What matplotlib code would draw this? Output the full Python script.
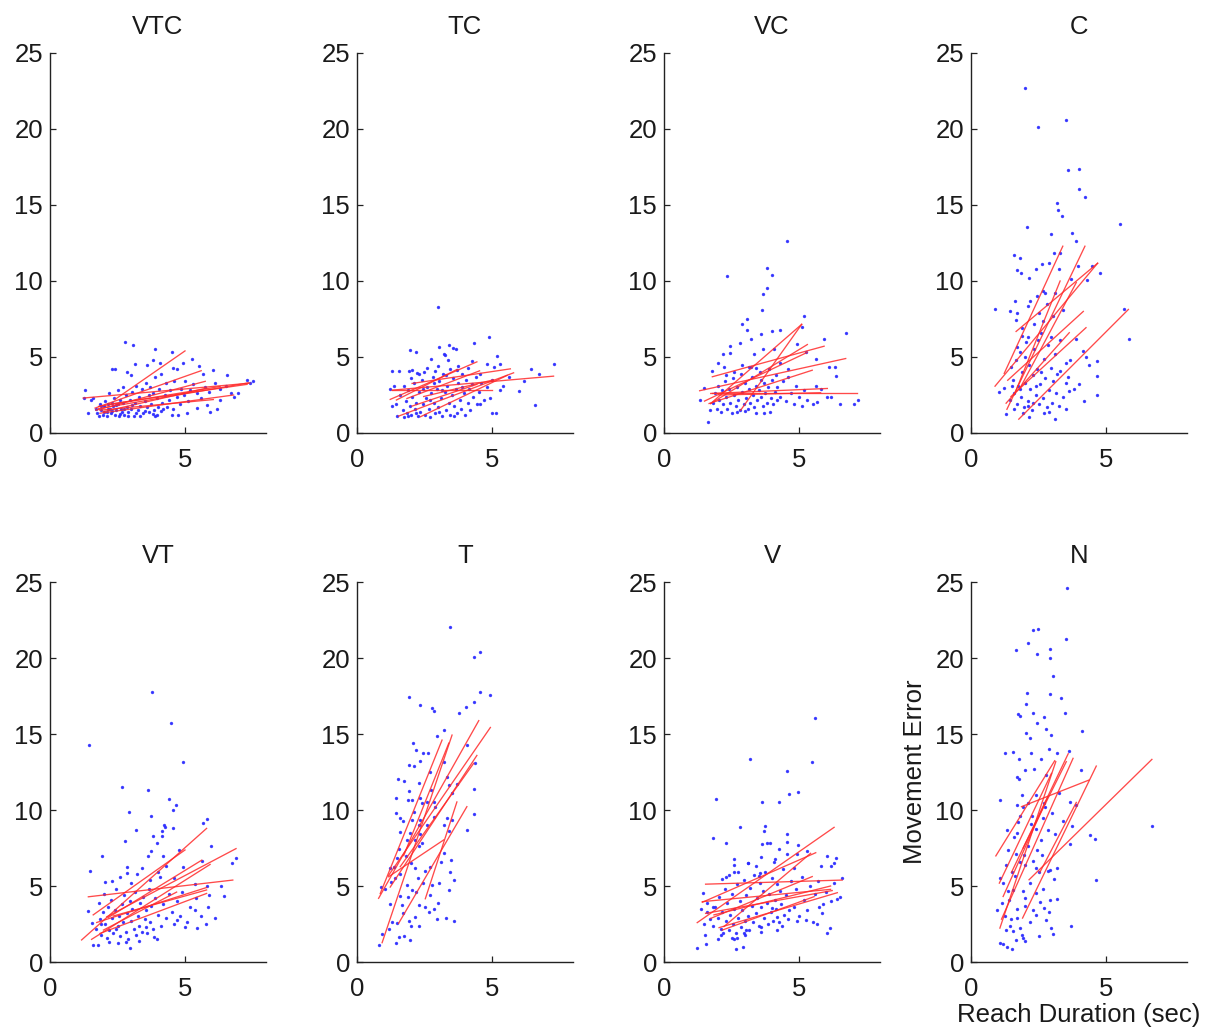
import matplotlib
matplotlib.use("Agg")
import matplotlib.pyplot as plt

plt.rcParams['font.family'] = ['Liberation Sans', 'DejaVu Sans']

panel_names = ["VTC", "TC", "VC", "C", "VT", "T", "V", "N"]
x_ticks = [0, 5]
y_ticks = [0, 5, 10, 15, 20, 25]
x_label = "Reach Duration (sec)"
y_label = "Movement Error"

vtc_pts = [(2.78,6.0),(3.09,5.8),(3.9,5.5),(4.5,5.3),(5.25,4.9),(2.28,4.2),(2.4,4.2),(2.84,4.0),(3.15,4.55),(3.58,4.5),(3.83,4.8),(4.07,4.6),(4.57,4.27),(4.69,4.2),(4.94,4.6),(5.53,4.4),(6.05,4.15),(5.68,3.9),(6.54,3.8),(7.28,3.5),(6.98,2.6),(1.3,2.85),(6.3,2.2),(5.8,1.85),(5.93,1.4),(6.2,1.6),(5.43,1.64),(5.06,1.3),(4.5,1.2),(4.75,1.2),(3.95,1.2),(3.9,1.1),(1.42,1.3),(6.8,2.4),
(1.25,2.3),(1.5,2.2),(1.6,2.3),(1.7,1.6),(1.75,1.3),(1.8,1.1),(1.85,1.9),(1.9,1.5),(1.95,1.2),(2.0,1.75),(2.05,2.1),(2.1,1.4),(2.12,1.1),(2.15,1.9),(2.2,2.6),(2.22,1.6),(2.25,1.3),(2.3,2.0),(2.35,1.75),(2.38,2.3),(2.4,1.2),(2.45,1.5),(2.5,2.8),(2.5,1.9),(2.55,1.1),(2.6,2.2),(2.62,1.6),(2.65,1.35),(2.7,3.0),(2.72,2.0),(2.75,1.2),(2.8,2.5),(2.85,1.7),(2.9,1.4),(2.95,2.2),(3.0,3.8),(3.0,1.6),(3.05,2.7),(3.1,1.15),(3.15,2.0),(3.2,3.1),(3.25,1.5),(3.3,2.4),(3.35,1.8),(3.4,2.9),(3.45,1.3),(3.5,2.1),(3.55,3.3),(3.6,1.7),(3.65,2.5),(3.7,3.0),(3.75,1.9),(3.8,2.6),(3.85,1.5),(3.9,3.7),(3.95,2.3),(4.0,1.7),(4.05,2.9),(4.1,3.9),(4.15,2.0),(4.2,1.6),(4.25,2.5),(4.3,3.3),(4.35,1.7),(4.4,2.2),(4.45,2.8),(4.55,1.6),(4.6,3.4),(4.7,2.4),(4.8,1.9),(4.85,2.9),(4.95,2.5),(5.0,3.4),(5.1,2.1),(5.2,2.8),(5.3,3.2),(5.45,2.6),(5.6,2.3),(5.75,3.0),(5.9,2.7),(6.1,3.3),(6.3,2.9),(6.5,3.1),(6.7,2.6),(7.4,3.3),(7.5,3.4),
(2.0,1.35),(2.3,1.45),(2.6,1.25),(2.9,1.1),(3.2,1.3),(3.5,1.45),(3.8,1.25),(4.1,1.45),(2.45,1.85),(2.75,1.55),(3.05,1.85),(3.35,1.15),(3.65,1.35),(1.9,1.75),(2.15,1.55)]

tc_pts = [(3.0,8.29),(4.9,6.32),(4.35,5.93),(1.98,5.45),(2.19,5.36),(3.02,5.64),(3.4,5.8),(3.56,5.6),(3.68,5.5),(3.21,5.18),(3.27,5.1),(5.19,5.05),(3.36,4.79),(2.75,4.9),(4.26,4.75),(7.31,4.53),(5.28,4.57),(4.81,4.53),(5.06,4.31),(6.44,4.18),(6.73,3.91),(1.3,4.09),(1.54,4.09),(1.91,4.09),(2.04,4.13),(2.47,4.02),(2.22,3.96),(2.9,4.09),(3.7,4.13),(3.89,3.91),(4.57,3.91),(5.62,3.69),(6.17,3.43),(5.99,2.78),(6.6,1.84),(1.23,2.9),(1.36,3.12),(5.0,1.33),(5.16,1.33),(4.44,1.94),(4.57,1.94),(4.94,2.27),(5.31,2.86),(1.48,1.11),(1.73,1.07),(1.3,1.77),(1.46,1.94),
(1.6,2.5),(1.7,1.5),(1.8,2.1),(1.85,1.3),(1.9,2.8),(1.95,1.8),(2.0,1.2),(2.05,2.4),(2.1,3.3),(2.15,1.6),(2.2,2.0),(2.25,1.1),(2.3,2.7),(2.35,1.4),(2.4,3.5),(2.45,1.9),(2.5,1.2),(2.55,2.3),(2.6,3.0),(2.65,1.6),(2.7,1.05),(2.75,2.6),(2.8,3.7),(2.85,2.0),(2.9,1.3),(2.95,2.9),(3.0,1.7),(3.05,3.4),(3.1,2.3),(3.15,1.1),(3.2,3.9),(3.25,2.7),(3.3,1.5),(3.35,3.1),(3.4,2.0),(3.45,1.2),(3.5,2.5),(3.55,3.6),(3.6,1.8),(3.65,2.9),(3.7,1.3),(3.75,3.3),(3.8,2.2),(3.85,1.6),(3.9,3.0),(3.95,2.6),(4.0,1.2),(4.05,3.5),(4.1,2.0),(4.15,2.9),(4.2,1.5),(4.25,3.2),(4.3,2.4),(4.4,3.7),(4.5,2.7),(4.6,3.3),(4.7,2.2),(4.8,3.0),(5.0,3.5),(5.4,3.1),(2.3,3.9),(2.6,4.3),(3.0,4.4),(3.3,3.8),(2.0,3.6),(1.75,3.1),(2.45,2.9),(2.85,3.3),(3.15,2.8),(3.45,4.2),(3.75,4.4),(4.1,4.3),(2.7,2.2),(3.05,1.4),(3.6,1.1),(2.2,1.3),(1.9,1.1)]

vc_pts = [(4.57,12.62),(3.8,10.85),(4.01,10.4),(2.35,10.32),(3.8,9.53),(3.68,9.12),(3.64,8.07),(5.19,7.7),(2.88,7.19),(3.09,7.52),(3.09,6.76),(3.58,6.49),(4.01,6.71),(4.28,6.8),(5.12,7.0),(6.73,6.58),(5.93,6.17),(3.21,6.2),(2.81,5.93),(2.44,5.71),(2.44,5.26),(2.17,5.22),(3.68,5.55),(4.07,5.55),(3.33,5.18),(4.94,5.88),(5.25,5.34),(5.62,4.9),(2.22,4.31),(3.15,4.31),(3.23,4.35),(6.11,4.35),(6.32,4.35),(6.36,3.76),(1.79,4.1),(5.62,3.08),(6.02,2.38),(5.68,2.05),(7.04,1.94),(7.19,2.2),(1.32,2.16),(1.64,0.74),(1.69,1.5),(1.48,2.93),(3.4,1.34),(3.7,1.34),(3.93,1.4),(4.2,2.16),
(1.8,2.0),(1.9,2.6),(1.95,1.6),(2.0,3.1),(2.05,2.2),(2.1,1.4),(2.15,2.8),(2.2,1.9),(2.25,3.4),(2.3,2.4),(2.35,1.6),(2.4,2.9),(2.45,2.0),(2.5,1.3),(2.55,3.6),(2.6,2.5),(2.65,1.8),(2.7,3.0),(2.75,2.2),(2.8,1.5),(2.85,3.9),(2.9,2.7),(2.95,1.9),(3.0,3.3),(3.05,2.3),(3.1,1.6),(3.15,2.9),(3.2,2.0),(3.25,3.7),(3.3,2.5),(3.35,1.7),(3.4,3.1),(3.45,2.2),(3.5,2.8),(3.55,4.0),(3.6,2.4),(3.65,1.8),(3.7,3.3),(3.75,2.6),(3.8,2.0),(3.85,3.0),(3.9,4.2),(3.95,2.3),(4.0,3.5),(4.05,1.9),(4.1,2.7),(4.15,3.8),(4.2,3.0),(4.3,2.4),(4.4,3.4),(4.5,2.1),(4.6,4.2),(4.7,2.6),(4.8,1.9),(4.9,3.1),(5.0,2.4),(5.1,1.8),(5.2,2.8),(5.3,2.2),(5.5,1.9),(5.8,2.9),(6.2,2.4),(6.5,1.9),(2.3,3.8),(2.0,4.6),(2.6,4.0),(2.9,4.5),(3.4,4.3),(3.0,1.45),(2.7,1.35),(3.6,3.5),(4.3,4.6),(4.6,3.7)]

c_pts = [(2.0,22.68),(3.53,20.62),(2.47,20.14),(3.58,17.3),(3.99,17.37),(3.99,16.03),(4.22,15.5),(3.19,15.16),(3.21,14.68),(3.38,14.26),(5.51,13.76),(2.06,13.54),(2.96,13.06),(3.74,13.14),(3.89,12.6),(1.58,11.74),(1.83,11.52),(3.09,11.85),(3.31,11.85),(1.7,10.74),(1.85,10.54),(2.41,10.8),(2.62,11.1),(2.16,10.19),(2.88,11.2),(3.27,10.8),(3.98,11.0),(4.48,10.96),(4.78,10.54),(3.7,10.11),(4.3,10.04),(2.65,9.34),(2.74,9.23),(2.43,9.0),(1.64,8.66),(0.89,8.18),(1.46,8.01),(5.68,8.16),(2.1,8.38),(1.67,7.45),(5.84,6.2),(1.88,6.93),(2.32,7.14),(3.02,7.73),(2.65,7.4),(2.47,6.09),(2.96,6.3),(1.7,5.66),(2.1,6.3),(1.48,4.34),(4.14,5.39),(4.26,5.0),(4.67,4.74),(4.38,4.45),(4.67,3.76),(3.68,4.78),(3.31,4.09),(3.52,3.26),(3.62,2.74),(4.17,2.1),(4.67,2.52),(3.12,0.91),(1.3,1.24),(1.6,1.6),(1.23,2.98),(1.05,2.7),(2.16,1.07),(1.91,1.29),
(1.45,2.2),(1.55,3.5),(1.6,2.6),(1.65,4.8),(1.7,1.9),(1.75,3.1),(1.8,5.3),(1.85,2.4),(1.9,4.0),(1.95,1.7),(2.0,3.3),(2.05,6.0),(2.1,2.1),(2.15,4.5),(2.2,2.9),(2.25,1.5),(2.3,3.8),(2.35,5.5),(2.4,2.5),(2.45,4.2),(2.5,1.9),(2.55,3.2),(2.6,6.6),(2.65,2.3),(2.7,4.9),(2.75,3.6),(2.8,1.7),(2.85,5.8),(2.9,2.8),(2.95,4.3),(3.0,2.0),(3.05,3.4),(3.1,5.2),(3.15,2.6),(3.2,3.9),(3.25,1.8),(3.3,6.1),(3.4,2.4),(3.5,4.6),(3.6,3.7),(3.8,2.9),(3.9,6.2),(4.0,3.2),(1.7,7.9),(2.2,8.7),(2.5,7.9),(2.8,8.5),(3.1,9.2),(3.4,8.1),(2.0,5.0),(1.9,6.4),(2.4,3.1),(2.7,1.3),(1.5,3.1),(2.3,2.0),(2.9,1.4),(3.5,1.6),(2.1,1.8),(1.8,2.9),(2.6,4.0)]

vt_pts = [(3.77,17.79),(4.48,15.74),(1.46,14.27),(4.94,13.14),(2.68,11.54),(3.62,11.32),(4.4,10.74),(4.65,10.33),(4.57,10.0),(2.94,9.84),(3.73,9.6),(5.8,9.39),(5.68,9.12),(4.23,9.01),(4.26,8.9),(4.54,8.79),(3.19,8.66),(4.16,8.64),(3.8,8.31),(4.14,8.29),(2.78,7.98),(3.98,7.8),(5.96,7.65),(3.74,7.32),(1.94,6.99),(3.64,6.99),(4.2,6.99),(4.79,7.37),(6.88,6.86),(6.73,6.54),(1.48,5.99),(2.86,6.27),(2.86,5.83),(3.23,5.77),(2.04,5.28),(4.01,5.9),(4.07,5.57),(4.94,6.27),(5.62,6.64),(6.32,5.02),(6.46,4.34),(5.8,5.0),(5.37,5.13),(1.4,3.35),(1.54,2.54),(1.6,1.11),(1.77,1.11),(2.51,1.22),(2.96,0.89),(3.85,1.67),(3.95,1.49),(4.69,2.76),(5.06,2.61),(5.43,2.21),(5.78,2.5),(5.86,3.62),(5.37,3.4),
(1.7,2.2),(1.8,3.9),(1.85,2.8),(1.9,1.8),(1.95,3.3),(2.0,4.5),(2.05,2.5),(2.1,1.6),(2.15,3.6),(2.2,2.1),(2.25,4.1),(2.3,2.9),(2.35,1.9),(2.4,3.4),(2.45,4.8),(2.5,2.4),(2.55,3.0),(2.6,1.7),(2.65,3.8),(2.7,2.6),(2.75,4.4),(2.8,2.0),(2.85,3.2),(2.9,1.5),(2.95,4.0),(3.0,2.7),(3.05,3.5),(3.1,2.2),(3.15,4.6),(3.2,1.8),(3.25,3.0),(3.3,2.4),(3.35,3.9),(3.4,2.0),(3.45,4.3),(3.5,2.8),(3.55,3.4),(3.6,1.9),(3.65,4.8),(3.7,2.6),(3.75,3.7),(3.8,2.2),(3.9,4.2),(4.0,3.1),(4.1,2.4),(4.2,3.8),(4.3,2.9),(4.4,4.5),(4.5,3.3),(4.6,2.5),(4.7,4.0),(4.8,3.0),(4.9,4.6),(5.0,2.3),(5.2,3.6),(5.4,4.2),(5.6,3.0),(5.9,4.4),(6.1,2.9),(2.3,5.3),(2.6,5.6),(3.0,5.2),(3.4,6.2),(3.7,5.4),(4.3,6.3),(4.6,5.5),(2.2,1.3),(2.8,1.3),(3.3,1.4),(1.9,2.5),(2.45,2.2),(3.55,2.3)]

t_pts = [(3.43,22.06),(4.32,20.04),(4.57,20.41),(1.91,17.46),(2.32,16.91),(2.78,16.69),(2.86,16.54),(3.77,16.36),(4.05,16.8),(4.32,17.08),(4.54,17.78),(4.94,17.57),(3.21,15.26),(2.96,14.89),(2.07,14.39),(2.2,13.95),(2.44,13.77),(2.62,13.77),(4.07,14.28),(1.94,12.96),(2.12,12.92),(2.35,13.2),(2.69,12.52),(3.23,13.18),(4.38,13.07),(1.51,12.04),(1.73,11.91),(3.33,12.15),(3.42,11.65),(3.7,11.68),(1.91,11.25),(1.46,10.8),(1.88,10.69),(2.04,10.65),(2.32,10.8),(2.41,10.48),(2.59,10.54),(2.74,11.3),(2.86,10.54),(3.52,11.14),(4.35,11.38),(4.35,9.74),(1.46,9.82),(1.58,9.45),(1.7,9.3),(2.04,9.34),(2.35,9.34),(2.86,9.52),(3.33,9.45),(3.52,9.34),(4.07,8.68),(1.6,8.57),(1.95,8.51),(2.28,8.99),(3.23,8.99),(3.4,8.64),(2.16,8.03),(1.54,7.41),(2.28,7.63),(3.23,7.15),(3.48,6.71),(1.48,6.81),(1.23,6.16),(1.38,6.27),(2.16,6.16),(2.25,5.5),(2.72,6.27),(3.43,5.9),(3.58,5.39),(0.89,4.96),(1.05,4.78),(1.26,5.28),(1.85,5.06),(2.04,4.74),(2.44,5.17),(2.78,5.06),(3.02,5.17),(3.4,4.74),(1.23,3.82),(1.58,4.31),(1.67,3.75),(2.28,3.75),(2.65,3.29),(2.84,3.46),(3.31,2.87),(3.6,2.7),(2.96,2.85),(1.91,2.72),(2.16,2.98),(2.28,2.35),(1.3,2.65),(1.17,2.2),(1.48,2.54),(1.73,1.7),(0.93,1.83),(0.8,1.12),(1.46,1.23),(1.98,1.45),(1.54,1.66),
(1.8,7.0),(2.0,6.5),(2.1,9.9),(2.4,7.8),(2.5,6.0),(2.6,9.0),(1.6,5.8),(1.9,4.3),(2.2,4.6),(2.5,3.6),(2.7,4.4),(3.0,3.9),(3.1,6.6),(2.3,11.8),(2.9,10.2),(1.4,5.5),(1.7,3.2),(2.0,2.4),(2.35,8.4),(1.85,8.0)]

v_pts = [(5.58,16.03),(5.49,13.18),(3.19,13.33),(4.54,12.59),(4.98,11.18),(4.63,11.03),(1.91,10.7),(3.64,10.5),(4.26,10.5),(2.81,8.9),(3.74,8.95),(3.7,8.64),(1.83,8.14),(2.28,7.85),(3.83,7.85),(3.93,7.81),(3.64,7.74),(4.54,8.4),(4.54,7.92),(4.96,7.7),(4.26,7.43),(4.57,7.1),(4.94,7.08),(3.58,6.93),(5.31,7.32),(6.05,6.99),(6.36,6.82),(2.59,6.78),(2.59,6.38),(3.12,6.54),(4.07,6.6),(5.83,6.34),(6.17,6.34),(6.3,6.54),(2.74,5.95),(2.41,5.73),(2.16,5.44),(3.56,5.88),(3.52,5.68),(6.58,5.55),(1.46,4.56),(1.81,3.64),(1.38,3.46),(1.6,3.31),(1.48,2.5),(1.23,0.9),(1.57,1.19),(2.65,0.83),(2.93,0.96),(2.1,1.78),(2.59,1.49),(2.69,1.56),(2.96,1.89),(3.02,2.11),(3.58,2.32),(4.38,2.37),(6.05,1.89),(6.14,2.21),(5.68,2.5),(4.94,2.72),(5.25,2.76),(6.4,4.13),(5.74,3.64),(5.86,3.2),(4.63,3.42),(4.01,3.53),(4.2,2.98),
(1.8,2.4),(1.9,3.6),(2.0,2.9),(2.05,4.3),(2.1,2.2),(2.15,3.3),(2.2,1.9),(2.25,4.8),(2.3,2.7),(2.35,3.9),(2.4,2.1),(2.45,3.1),(2.5,4.5),(2.55,2.5),(2.6,3.5),(2.65,1.9),(2.7,5.1),(2.75,2.9),(2.8,4.0),(2.85,2.3),(2.9,3.4),(2.95,5.4),(3.0,2.7),(3.05,4.4),(3.1,3.0),(3.15,2.1),(3.2,4.9),(3.25,3.7),(3.3,2.6),(3.35,5.7),(3.4,3.2),(3.45,4.2),(3.5,2.4),(3.55,5.2),(3.6,3.6),(3.65,4.7),(3.7,2.9),(3.75,5.9),(3.8,3.9),(3.85,2.5),(3.9,4.5),(3.95,3.3),(4.0,5.5),(4.05,2.7),(4.1,4.1),(4.15,3.5),(4.2,5.1),(4.25,2.6),(4.3,4.7),(4.35,3.8),(4.4,6.1),(4.45,3.1),(4.5,4.4),(4.6,2.8),(4.7,5.3),(4.8,3.6),(4.9,4.8),(5.0,3.0),(5.1,5.6),(5.2,4.1),(5.3,3.4),(5.4,5.0),(5.5,2.6),(5.6,4.5),(5.7,5.3),(5.9,3.8),(6.0,4.6),(6.2,4.0),(6.3,5.2),(6.5,4.3),(1.6,3.9),(1.7,2.8),(2.3,5.6),(2.6,5.9),(3.1,6.5),(3.4,6.3),(4.1,6.8),(4.8,6.2),(2.0,1.5),(2.5,1.6),(3.0,1.8),(3.6,2.0),(4.2,2.1),(1.5,1.8)]

n_pts = [(3.57,24.6),(3.51,21.28),(2.3,21.83),(2.49,21.93),(2.12,21.0),(1.65,20.5),(2.92,20.56),(2.92,20.0),(2.45,20.25),(3.04,18.8),(2.08,17.7),(2.92,17.6),(3.35,17.34),(2.05,17.0),(1.75,16.29),(1.83,16.18),(2.3,16.35),(2.45,15.74),(2.69,16.09),(3.49,16.35),(2.05,15.09),(2.18,14.75),(2.79,15.3),(2.98,14.93),(4.12,15.19),(1.25,13.73),(1.57,13.84),(1.77,13.33),(2.24,13.77),(2.61,13.33),(2.9,13.99),(3.2,13.77),(3.63,13.88),(1.69,12.19),(1.78,12.02),(1.99,12.63),(2.32,12.68),(2.77,12.3),(4.08,12.63),(1.09,10.66),(1.71,10.33),(1.93,10.22),(2.12,10.44),(2.4,10.99),(2.71,10.44),(3.26,11.1),(3.65,10.55),(3.9,10.33),(1.81,9.61),(2.21,9.08),(2.67,9.46),(3.41,9.3),(3.75,8.95),(1.34,8.69),(1.71,8.47),(2.42,8.73),(2.85,8.69),(3.1,8.43),(4.39,8.36),(4.6,8.1),(6.7,8.95),(3.68,7.77),(1.38,7.38),(1.66,7.11),(1.96,7.05),(2.64,7.05),(1.81,6.61),(1.99,6.39),(2.3,6.65),(2.52,5.95),(2.94,6.06),(1.07,5.52),(1.2,5.19),(1.62,5.63),(2.18,5.23),(3.06,5.47),(4.63,5.41),(1.38,4.64),(1.57,4.75),(1.91,4.64),(2.42,4.53),(2.55,3.98),(2.92,4.09),(3.2,4.14),(0.95,3.44),(1.25,3.0),(1.48,2.82),(1.69,2.89),(1.99,3.7),(2.3,3.44),(2.42,3.11),(2.69,3.55),(2.79,2.78),(1.3,2.12),(1.57,2.01),(1.83,2.23),(1.9,1.8),(2.52,1.73),(2.98,2.23),(3.02,1.86),(3.69,2.39),(1.07,1.25),(1.17,1.2),(1.35,0.99),(1.5,0.88),(1.66,1.47),(1.93,1.58),(1.99,1.36),
(1.3,6.4),(1.5,5.9),(1.6,8.2),(1.75,9.2),(1.9,11.0),(2.1,7.6),(2.25,9.6),(2.45,7.4),(2.6,8.0),(2.75,10.2),(2.85,6.0),(3.0,9.8),(1.4,4.1),(1.7,3.5),(2.0,4.2),(2.2,2.6),(2.4,6.2),(2.65,4.8),(1.15,3.9),(1.45,2.4),(2.9,3.3),(3.2,6.2)]

# fitted lines per panel: (x_start, x_end, y_start, y_end)
vtc_lines = [(1.23,7.4,2.3,3.28),(2.4,5.0,2.2,5.4),(1.67,5.6,1.64,4.1),(1.7,5.75,1.5,3.4),(1.8,7.35,1.6,3.3),(1.85,6.8,1.3,2.5),(1.8,6.3,1.75,3.06),(1.97,5.8,1.4,2.95),(2.2,7.3,1.9,3.2),(1.85,6.05,1.5,2.2)]
tc_lines = [(1.23,4.44,2.21,4.68),(1.3,7.28,2.82,3.74),(1.46,3.7,2.17,4.18),(2.04,5.68,3.26,4.22),(1.54,5.8,1.11,3.96),(2.35,5.56,1.07,3.79),(1.3,5.0,2.82,2.82),(1.85,4.54,2.27,4.09),(2.47,5.06,2.4,3.5),(2.04,4.44,1.77,3.2)]
vc_lines = [(1.32,6.73,2.78,4.9),(1.79,5.93,3.7,5.71),(1.73,5.1,1.94,7.15),(2.84,5.1,1.5,7.15),(1.73,5.31,1.94,5.82),(1.73,6.05,2.6,2.93),(1.79,7.16,2.6,2.6),(2.04,5.8,2.5,2.65),(1.67,5.49,1.94,4.13),(1.5,5.3,2.1,5.3)]
c_lines = [(1.23,3.4,3.92,12.29),(0.89,4.69,3.08,11.17),(1.67,4.69,6.68,11.17),(1.33,4.22,1.56,12.29),(1.77,5.83,0.91,8.13),(1.36,4.16,3.47,8.0),(1.48,4.26,2.4,6.93),(1.3,3.64,1.96,6.6),(1.6,3.3,2.5,10.0),(1.8,3.9,2.9,9.9)]
vt_lines = [(1.17,5.8,1.45,8.79),(1.42,6.77,4.29,5.39),(1.6,5.0,3.1,7.37),(1.54,5.93,1.49,6.42),(1.85,5.8,1.88,4.51),(2.1,6.89,2.97,7.46),(2.35,5.8,3.03,4.74),(1.73,5.8,2.6,4.9),(2.16,5.62,2.93,6.7),(1.98,4.69,2.1,4.6)]
t_lines = [(0.8,4.51,4.19,15.88),(0.93,3.52,1.27,14.93),(0.86,3.15,4.5,14.6),(1.17,4.94,5.7,15.43),(1.23,4.44,4.93,13.59),(1.54,4.07,2.54,10.22),(2.53,3.7,4.16,10.53),(1.17,3.21,5.61,8.03),(1.6,4.32,6.27,13.07),(1.73,3.4,7.0,14.4)]
v_lines = [(1.23,6.3,2.59,8.86),(1.54,6.6,5.12,5.39),(1.42,5.62,3.93,7.19),(1.42,6.17,3.97,4.78),(2.04,6.42,2.26,4.56),(1.73,5.49,2.87,5.62),(2.22,5.43,2.33,7.15),(1.85,6.17,3.1,5.0),(2.16,5.56,2.1,4.3),(1.54,6.23,3.2,4.7)]
n_lines = [(0.92,3.1,6.98,13.24),(1.07,3.14,2.23,13.18),(1.05,2.98,5.19,12.41),(1.13,3.78,2.82,13.4),(1.87,4.37,10.22,11.97),(2.15,6.7,5.41,13.33),(1.91,4.64,2.89,12.89),(1.93,3.53,7.49,13.18),(1.19,2.85,4.31,10.88),(1.5,3.6,5.9,13.7),(2.55,3.9,5.9,10.5)]

panel_points = [vtc_pts, tc_pts, vc_pts, c_pts, vt_pts, t_pts, v_pts, n_pts]
panel_lines = [vtc_lines, tc_lines, vc_lines, c_lines, vt_lines, t_lines, v_lines, n_lines]

fig = plt.figure(figsize=(12.07, 10.30), dpi=100)
lefts = [50, 357, 664, 971]
bottoms_px = [433, 962]
W, H = 1207, 1030
aw, ah = 216, 380
FS = 18.5

for i, name in enumerate(panel_names):
    r, c = divmod(i, 4)
    ax = fig.add_axes([lefts[c] / W, 1 - bottoms_px[r] / H, aw / W, ah / H])
    pts = panel_points[i]
    xs = [p[0] for p in pts]
    ys = [p[1] for p in pts]
    ax.plot(xs, ys, linestyle='none', marker='.', color='#2a2aff', markersize=2.8, alpha=0.85)
    for (x0, x1, y0, y1) in panel_lines[i]:
        ax.plot([x0, x1], [y0, y1], color='#ff2a2a', lw=0.95, alpha=0.85)
    ax.set_xlim(0, 8)
    ax.set_ylim(0, 25)
    ax.set_xticks(x_ticks)
    ax.set_yticks(y_ticks)
    ax.spines['top'].set_visible(False)
    ax.spines['right'].set_visible(False)
    for s in ('left', 'bottom'):
        ax.spines[s].set_color('#222222')
        ax.spines[s].set_linewidth(1.0)
    ax.tick_params(direction='in', length=4, width=0.9, color='#222222',
                   labelsize=FS, labelcolor='#1a1a1a')
    ax.tick_params(axis='y', pad=5)
    ax.tick_params(axis='x', pad=11)
    ax.set_title(name, fontsize=FS, pad=14, color='#1a1a1a')
    if name == "N":
        ax.set_xlabel(x_label, fontsize=FS, labelpad=1, color='#1a1a1a')
        ax.set_ylabel(y_label, fontsize=FS, labelpad=6, color='#1a1a1a')

fig.savefig("out.png", dpi=100)
